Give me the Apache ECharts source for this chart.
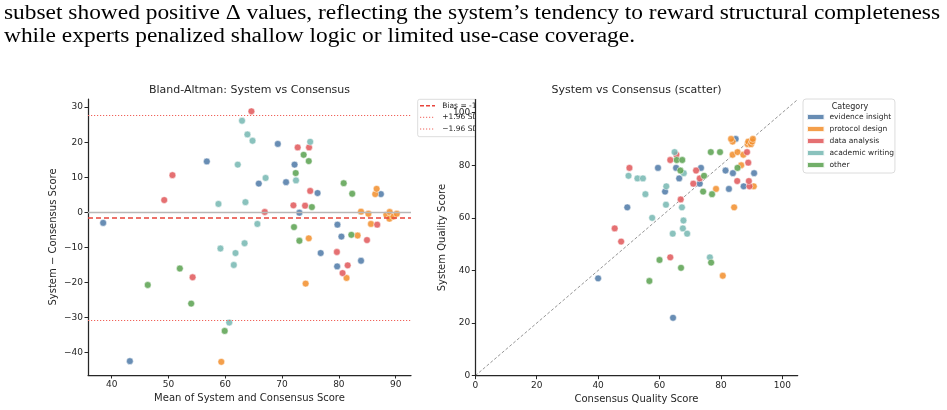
<!DOCTYPE html>
<html><head><meta charset="utf-8">
<script src="https://cdn.jsdelivr.net/npm/echarts@6/dist/echarts.min.js"></script>
<style>html,body{margin:0;padding:0;background:#fff}#c{width:947px;height:410px}</style>
</head><body><div id="c"></div>
<script>
// ---------- data ----------
const paragraphLines = [
  'subset showed positive \u0394 values, reflecting the system\u2019s tendency to reward structural completeness',
  'while experts penalized shallow logic or limited use-case coverage.'
];
const categories = ['evidence insight', 'protocol design', 'data analysis', 'academic writing', 'other'];
const catColors = ['#4e79a7', '#f28e2b', '#e15759', '#76b7b2', '#59a14f'];
// category index of each item (0 evidence, 1 protocol, 2 data, 3 academic, 4 other)
const pointCategory = [0,2,2,0,3,3,3,3,3,2, 3,3,0,2,3,0,0,2,4,0, 4,3,2,4,0,4,2,1,4,2, 3,2,4,0,0,0,4,4,4,1,
  1,2,1,1,1,1,2,0,1,1, 1,1,1,3,3,3,3,4,2,4, 4,3,4,0,1,0,1,2,0,2, 1,2,0];
const systemScore = [37,56,51,64,60,69,76,65,75,79, 75,64,70,67,72,79,75,73,70,79, 78,77,82,69,73,82,75,71,82,84,
  85,78,76,79,78,77,85,79,85,80, 84,81,85,84,89,90,85,90,88,89, 88,89,90,54,56,54,59,44,45,36,
  41,45,43,22,38,71,64,74,72,72, 72,74,77];
const consensusScore = [40.0,45.4,47.5,49.5,57.6,55.4,49.9,62.1,52.8,50.2, 54.6,67.3,61.8,66.9,62.2,59.5,66.4,71.0,74.2,65.4,
  66.8,67.9,63.5,77.1,73.1,65.6,73.1,78.4,67.4,65.5, 64.9,71.9,74.5,73.5,81.5,83.9,76.7,85.4,79.7,86.6,
  83.8,88.9,85.4,87.3,83.8,83.3,88.5,84.8,88.7,88.9, 89.8,90.2,90.4,64.3,67.6,69.0,67.8,60.0,63.5,56.7,
  67.0,76.4,76.8,64.4,80.6,82.6,84.3,85.3,87.4,89.3, 90.7,89.1,90.8];
const baXTicks = [40, 50, 60, 70, 80, 90];
const baYTicks = [-40, -30, -20, -10, 0, 10, 20, 30];
const scTicks = [0, 20, 40, 60, 80, 100];
const baXRange = [35.83, 92.7];
const baYRange = [-46.35, 32.3];
const scRange = [0, 105];
const identityLine = [0, 105];

// ---------- derived ----------
const diffs = systemScore.map((s, i) => s - consensusScore[i]);
const means = systemScore.map((s, i) => (s + consensusScore[i]) / 2);
const bias = diffs.reduce((a, b) => a + b, 0) / diffs.length;
const sd = Math.sqrt(diffs.reduce((a, d) => a + (d - bias) * (d - bias), 0) / (diffs.length - 1));
const upper = bias + 1.96 * sd, lower = bias - 1.96 * sd;

const SANS = '"DejaVu Sans", sans-serif';
const SERIF = '20px "Liberation Serif", serif';
const INK = '#262626';
const BIAS_COLOR = '#e8453c';
const LOA_COLOR = '#f0625a';

// horizontal stretch so the serif paragraph spans the page width like the original typesetting
const mctx = document.createElement('canvas').getContext('2d');
mctx.font = SERIF;
const paraScale = 936 / mctx.measureText(paragraphLines[0]).width;

function fmt(v) { return String(v).replace('-', '\u2212'); }
function axis(grid, range, ticks, name, gap, z) {
  return {
    type: 'value', gridIndex: grid, min: range[0], max: range[1], z: z || 0,
    name: name, nameLocation: 'middle', nameGap: gap,
    nameTextStyle: { fontFamily: SANS, fontSize: 10, color: INK },
    splitLine: { show: false },
    axisLine: { show: true, onZero: false, lineStyle: { color: INK, width: 1.25 } },
    axisTick: { show: true, length: 3.5, customValues: ticks, lineStyle: { color: INK, width: 1 } },
    axisLabel: { customValues: ticks, fontFamily: SANS, fontSize: 9, color: INK, margin: 5, formatter: fmt }
  };
}

const series = [];
// reference lines (Bland-Altman)
series.push({
  type: 'line', xAxisIndex: 0, yAxisIndex: 0, data: [], z: 1, silent: true,
  markLine: {
    silent: true, symbol: ['none', 'none'], label: { show: false }, animation: false,
    data: [
      { yAxis: 0, lineStyle: { color: '#b8b8b8', width: 1.3, type: 'solid' } },
      { yAxis: bias, lineStyle: { color: BIAS_COLOR, width: 1.5, type: [5, 3] } },
      { yAxis: upper, lineStyle: { color: LOA_COLOR, width: 1, type: [1.2, 1.8] } },
      { yAxis: lower, lineStyle: { color: LOA_COLOR, width: 1, type: [1.2, 1.8] } }
    ]
  }
});
// identity line in scatter
series.push({
  type: 'line', xAxisIndex: 1, yAxisIndex: 1, z: 1, silent: true, symbol: 'none',
  data: [[identityLine[0], identityLine[0]], [identityLine[1], identityLine[1]]],
  lineStyle: { color: '#7a7a7a', width: 0.8, type: [3, 2] }
});
categories.forEach((cat, c) => {
  const idx = pointCategory.map((k, i) => k === c ? i : -1).filter(i => i >= 0);
  const style = { color: catColors[c], opacity: 0.85, borderColor: '#ffffff', borderWidth: 0.6 };
  series.push({
    name: cat, type: 'scatter', xAxisIndex: 0, yAxisIndex: 0, z: 3, symbolSize: 6.8,
    itemStyle: style, data: idx.map(i => [means[i], diffs[i]])
  });
  series.push({
    name: cat, type: 'scatter', xAxisIndex: 1, yAxisIndex: 1, z: 3, symbolSize: 6.8,
    itemStyle: style, data: idx.map(i => [consensusScore[i], systemScore[i]])
  });
});

const legendFont = 7.5 + 'px ' + SANS;
const graphic = [
  { type: 'text', x: 4, y: 4, scaleX: paraScale, z: 10, style: { text: paragraphLines[0], font: SERIF, fill: '#000' } },
  { type: 'text', x: 4, y: 27, scaleX: paraScale, z: 10, style: { text: paragraphLines[1], font: SERIF, fill: '#000' } },
  // Bland-Altman legend (clipped by the right panel)
  { type: 'rect', z: 1, shape: { x: 417.7, y: 99.3, width: 90, height: 37.4, r: 2 }, style: { fill: 'rgba(255,255,255,0.85)', stroke: '#d3d3d3', lineWidth: 0.8 } },
  { type: 'line', z: 2, shape: { x1: 420, y1: 105.7, x2: 435, y2: 105.7 }, style: { stroke: BIAS_COLOR, lineWidth: 1.5, lineDash: [4, 2] } },
  { type: 'line', z: 2, shape: { x1: 420, y1: 117.3, x2: 435, y2: 117.3 }, style: { stroke: LOA_COLOR, lineWidth: 1, lineDash: [1.2, 1.8] } },
  { type: 'line', z: 2, shape: { x1: 420, y1: 129, x2: 435, y2: 129 }, style: { stroke: LOA_COLOR, lineWidth: 1, lineDash: [1.2, 1.8] } },
  { type: 'text', z: 2, style: { x: 442.3, y: 105.7, text: 'Bias = ' + bias.toFixed(2), font: legendFont, fill: INK, verticalAlign: 'middle' } },
  { type: 'text', z: 2, style: { x: 442.3, y: 117.3, text: '+1.96 SD', font: legendFont, fill: INK, verticalAlign: 'middle' } },
  { type: 'text', z: 2, style: { x: 442.3, y: 129, text: '\u22121.96 SD', font: legendFont, fill: INK, verticalAlign: 'middle' } },
  { type: 'rect', z: 3, shape: { x: 476, y: 96, width: 40, height: 44 }, style: { fill: '#ffffff' } },
  // legend title of scatter panel
  { type: 'text', z: 100, style: { x: 850, y: 106.7, text: 'Category', font: '8px ' + SANS, fill: INK, align: 'center', verticalAlign: 'middle' } }
];

const option = {
  animation: false,
  backgroundColor: '#ffffff',
  title: [
    { text: 'Bland-Altman: System vs Consensus', left: 249.5, top: 84.5, textAlign: 'center', padding: 0,
      textStyle: { fontFamily: SANS, fontSize: 11, fontWeight: 'normal', color: INK } },
    { text: 'System vs Consensus (scatter)', left: 636.5, top: 84.5, textAlign: 'center', padding: 0,
      textStyle: { fontFamily: SANS, fontSize: 11, fontWeight: 'normal', color: INK } }
  ],
  grid: [
    { left: 88, top: 99, width: 323, height: 276 },
    { left: 475.3, top: 99.5, width: 322.4, height: 276.2 }
  ],
  xAxis: [
    axis(0, baXRange, baXTicks, 'Mean of System and Consensus Score', 17.5),
    axis(1, scRange, scTicks, 'Consensus Quality Score', 17.5)
  ],
  yAxis: [
    axis(0, baYRange, baYTicks, 'System \u2212 Consensus Score', 30),
    axis(1, scRange, scTicks, 'System Quality Score', 27.5, 10)
  ],
  legend: {
    data: categories, orient: 'vertical', left: 803, top: 99, z: 4,
    icon: 'rect', itemWidth: 17.5, itemHeight: 6, itemGap: 2,
    textStyle: { fontFamily: SANS, fontSize: 7.5, color: INK, lineHeight: 10 },
    backgroundColor: '#ffffff', borderColor: '#d3d3d3', borderWidth: 0.8, borderRadius: 3,
    padding: [13, 1, 3, 3], selectedMode: false
  },
  graphic: graphic,
  series: series
};
const chart = echarts.init(document.getElementById('c'), null, { renderer: 'canvas' });
chart.setOption(option);
</script></body></html>
